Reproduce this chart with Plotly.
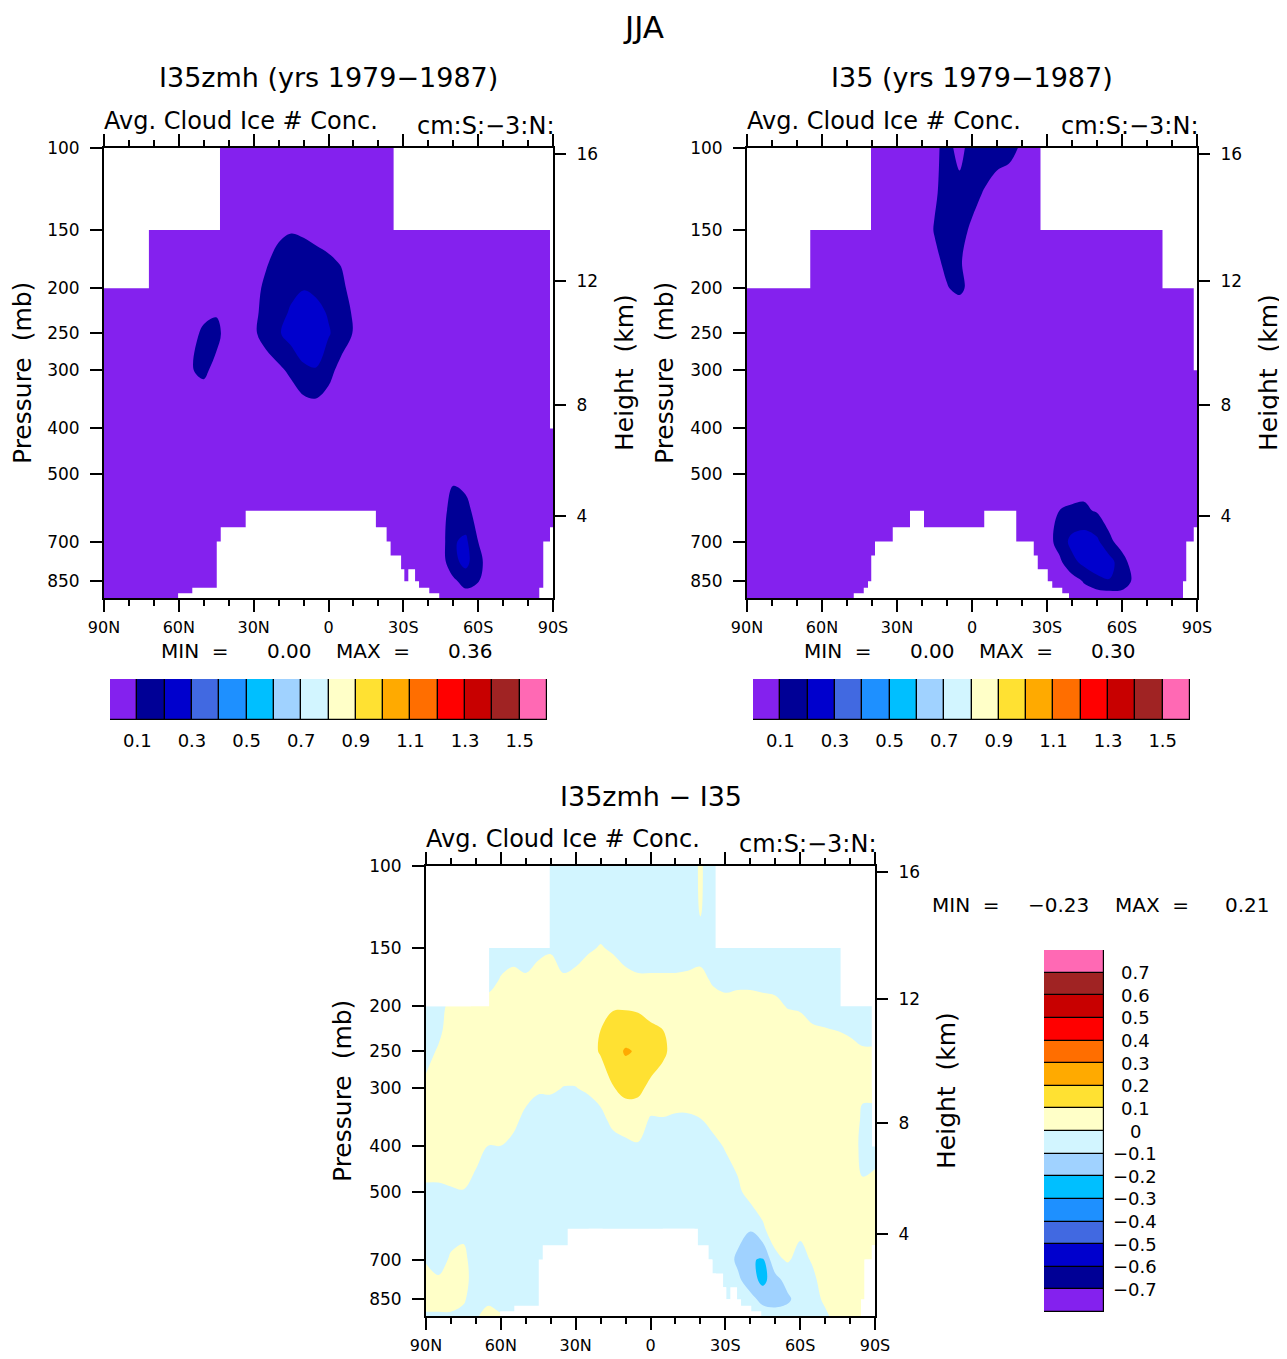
import math
import plotly.graph_objects as go

W, H = 1287, 1359
PAGE_MARGIN = 8          # default body margin of the html page
FONT = "DejaVu Sans"

# ---------------- grid ----------------
LATS = [90, 85, 80, 75, 70, 65, 60, 55, 50, 45, 40, 35, 30, 25, 20, 15, 10, 5, 0,
        -5, -10, -15, -20, -25, -30, -35, -40, -45, -50, -55, -60, -65, -70, -75,
        -80, -85, -90]
LEVELS = [100, 125, 150, 175, 200, 225, 250, 300, 350, 400, 500, 600, 700, 775, 850, 925]
P_BOTTOM = 925

# ---------------- panel 1 : I35zmh (rows = LEVELS, cols = LATS) ----------------
P1_FIELD = [
    [.05,.05,.05,.05,.05,.05,.05,.05,.05,.05, .05,.05,.05,.05,.05,.05,.05,.05,.05,.05, .05,.05,.05,.05,.05,.05,.05,.05,.05,.05, .05,.05,.05,.05,.05,.05,.05],
    [.05,.05,.05,.05,.05,.05,.05,.05,.05,.05, .05,.05,.05,.05,.05,.05,.05,.05,.05,.05, .05,.05,.05,.05,.05,.05,.05,.05,.05,.05, .05,.05,.05,.05,.05,.05,.05],
    [.05,.05,.05,.05,.05,.05,.05,.05,.05,.05, .05,.05,.05,.06,.08,.095,.09,.08,.07,.06, .05,.05,.05,.05,.05,.05,.05,.05,.05,.05, .05,.05,.05,.05,.05,.05,.05],
    [.05,.05,.05,.05,.05,.05,.05,.05,.05,.05, .05,.05,.05,.09,.13,.14,.13,.12,.11,.095, .06,.05,.05,.05,.05,.05,.05,.05,.05,.05, .05,.05,.05,.05,.05,.05,.05],
    [.05,.05,.05,.05,.05,.05,.05,.05,.05,.05, .05,.05,.07,.12,.15,.18,.195,.18,.15,.12, .07,.05,.05,.05,.05,.05,.05,.05,.05,.05, .05,.05,.05,.05,.05,.05,.05],
    [.05,.05,.05,.05,.05,.05,.05,.05,.06,.09, .05,.05,.08,.13,.17,.21,.25,.23,.19,.14, .09,.05,.05,.05,.05,.05,.05,.05,.05,.05, .05,.05,.05,.05,.05,.05,.05],
    [.05,.05,.05,.05,.05,.05,.05,.05,.13,.13, .05,.05,.085,.14,.19,.24,.28,.26,.21,.15, .095,.05,.05,.05,.05,.05,.05,.05,.05,.05, .05,.05,.05,.05,.05,.05,.05],
    [.05,.05,.05,.05,.05,.05,.05,.095,.12,.07, .05,.05,.05,.05,.08,.12,.18,.195,.13,.07, .05,.05,.05,.05,.05,.05,.05,.05,.05,.05, .05,.05,.05,.05,.05,.05,.05],
    [.05,.05,.05,.05,.05,.05,.05,.05,.05,.05, .05,.05,.05,.05,.05,.05,.08,.09,.07,.05, .05,.05,.05,.05,.05,.05,.05,.05,.05,.05, .05,.05,.05,.05,.05,.05,.05],
    [.05,.05,.05,.05,.05,.05,.05,.05,.05,.05, .05,.05,.05,.05,.05,.05,.05,.05,.05,.05, .05,.05,.05,.05,.05,.05,.05,.05,.05,.05, .05,.05,.05,.05,.05,.05,.05],
    [.05,.05,.05,.05,.05,.05,.05,.05,.05,.05, .05,.05,.05,.05,.05,.05,.05,.05,.05,.05, .05,.05,.05,.05,.05,.05,.05,.05,.08,.06, .05,.05,.05,.05,.05,.05,.05],
    [.05,.05,.05,.05,.05,.05,.05,.05,.05,.05, .05,.05,.05,.05,.05,.05,.05,.05,.05,.05, .05,.05,.05,.05,.05,.05,.05,.06,.14,.13, .06,.05,.05,.05,.05,.05,.05],
    [.05,.05,.05,.05,.05,.05,.05,.05,.05,.05, .05,.05,.05,.05,.05,.05,.05,.05,.05,.05, .05,.05,.05,.05,.05,.05,.05,.05,.19,.22, .10,.05,.05,.05,.05,.05,.05],
    [.05,.05,.05,.05,.05,.05,.05,.05,.05,.05, .05,.05,.05,.05,.05,.05,.05,.05,.05,.05, .05,.05,.05,.05,.05,.05,.05,.05,.17,.23, .13,.05,.05,.05,.05,.05,.05],
    [.05,.05,.05,.05,.05,.05,.05,.05,.05,.05, .05,.05,.05,.05,.05,.05,.05,.05,.05,.05, .05,.05,.05,.05,.05,.05,.05,.05,.08,.14, .105,.05,.05,.05,.05,.05,.05],
    [.05,.05,.05,.05,.05,.05,.05,.05,.05,.05, .05,.05,.05,.05,.05,.05,.05,.05,.05,.05, .05,.05,.05,.05,.05,.05,.05,.05,.05,.05, .05,.05,.05,.05,.05,.05,.05],
]

# ---------------- panel 2 : I35 (rows = LEVELS, cols = LATS) ----------------
P2_FIELD = [
    [.05,.05,.05,.05,.05,.05,.05,.05,.05,.05, .05,.05,.05,.05,.05,.08,.13,.07,.14,.14, .13,.12,.09,.05,.05,.05,.05,.05,.05,.05, .05,.05,.05,.05,.05,.05,.05],
    [.05,.05,.05,.05,.05,.05,.05,.05,.05,.05, .05,.05,.05,.05,.05,.09,.13,.13,.12,.095, .07,.06,.05,.05,.05,.05,.05,.05,.05,.05, .05,.05,.05,.05,.05,.05,.05],
    [.05,.05,.05,.05,.05,.05,.05,.05,.05,.05, .05,.05,.05,.05,.05,.105,.13,.12,.09,.05, .05,.05,.05,.05,.05,.05,.05,.05,.05,.05, .05,.05,.05,.05,.05,.05,.05],
    [.05,.05,.05,.05,.05,.05,.05,.05,.05,.05, .05,.05,.05,.05,.05,.08,.12,.11,.06,.05, .05,.05,.05,.05,.05,.05,.05,.05,.05,.05, .05,.05,.05,.05,.05,.05,.05],
    [.05,.05,.05,.05,.05,.05,.05,.05,.05,.05, .05,.05,.05,.05,.05,.05,.095,.12,.07,.05, .05,.05,.05,.05,.05,.05,.05,.05,.05,.05, .05,.05,.05,.05,.05,.05,.05],
    [.05,.05,.05,.05,.05,.05,.05,.05,.05,.05, .05,.05,.05,.05,.05,.05,.05,.05,.05,.05, .05,.05,.05,.05,.05,.05,.05,.05,.05,.05, .05,.05,.05,.05,.05,.05,.05],
    [.05,.05,.05,.05,.05,.05,.05,.05,.05,.05, .05,.05,.05,.05,.05,.05,.05,.05,.05,.05, .05,.05,.05,.05,.05,.05,.05,.05,.05,.05, .05,.05,.05,.05,.05,.05,.05],
    [.05,.05,.05,.05,.05,.05,.05,.05,.05,.05, .05,.05,.05,.05,.05,.05,.05,.05,.05,.05, .05,.05,.05,.05,.05,.05,.05,.05,.05,.05, .05,.05,.05,.05,.05,.05,.05],
    [.05,.05,.05,.05,.05,.05,.05,.05,.05,.05, .05,.05,.05,.05,.05,.05,.05,.05,.05,.05, .05,.05,.05,.05,.05,.05,.05,.05,.05,.05, .05,.05,.05,.05,.05,.05,.05],
    [.05,.05,.05,.05,.05,.05,.05,.05,.05,.05, .05,.05,.05,.05,.05,.05,.05,.05,.05,.05, .05,.05,.05,.05,.05,.05,.05,.05,.05,.05, .05,.05,.05,.05,.05,.05,.05],
    [.05,.05,.05,.05,.05,.05,.05,.05,.05,.05, .05,.05,.05,.05,.05,.05,.05,.05,.05,.05, .05,.05,.05,.05,.05,.05,.05,.05,.05,.05, .05,.05,.05,.05,.05,.05,.05],
    [.05,.05,.05,.05,.05,.05,.05,.05,.05,.05, .05,.05,.05,.05,.05,.05,.05,.05,.05,.05, .05,.05,.05,.05,.05,.10,.11,.115,.09,.05, .05,.05,.05,.05,.05,.05,.05],
    [.05,.05,.05,.05,.05,.05,.05,.05,.05,.05, .05,.05,.05,.05,.05,.05,.05,.05,.05,.05, .05,.05,.05,.05,.06,.14,.23,.25,.22,.12, .06,.05,.05,.05,.05,.05,.05],
    [.05,.05,.05,.05,.05,.05,.05,.05,.05,.05, .05,.05,.05,.05,.05,.05,.05,.05,.05,.05, .05,.05,.05,.05,.05,.08,.17,.23,.26,.24, .14,.05,.05,.05,.05,.05,.05],
    [.05,.05,.05,.05,.05,.05,.05,.05,.05,.05, .05,.05,.05,.05,.05,.05,.05,.05,.05,.05, .05,.05,.05,.05,.05,.05,.06,.11,.17,.195, .18,.07,.05,.05,.05,.05,.05],
    [.05,.05,.05,.05,.05,.05,.05,.05,.05,.05, .05,.05,.05,.05,.05,.05,.05,.05,.05,.05, .05,.05,.05,.05,.05,.05,.05,.05,.03,.03, .03,.05,.05,.05,.05,.05,.05],
]

# ---------------- panel 3 : I35zmh - I35 (one profile per latitude, top -> bottom) ----------------
P3_PROFILES = [
    [-.04,-.04,-.04,-.04,-.04,-.04,-.03,.02,.04,.04,-.01,-.04,-.01,.04,.03,-.01],     # 90
    [-.04,-.04,-.04,-.04,-.04,-.02,.01,.04,.04,.04,-.01,-.04,-.03,.01,.03,-.01],      # 85
    [-.04,-.04,-.04,-.04,.03,.04,.04,.04,.04,.04,-.005,-.03,.01,.04,.03,-.01],        # 80
    [-.04,-.04,-.04,-.04,.04,.04,.04,.04,.04,.04,-.002,-.02,.02,.03,.01,-.02],        # 75
    [-.04,-.04,-.04,-.04,.04,.04,.04,.04,.04,.04,-.04,-.04,-.04,-.04,-.04,-.01],      # 70
    [-.04,-.04,-.04,-.03,.03,.04,.04,.04,.04,-.002,-.04,-.04,-.04,-.04,-.02,.03],     # 65
    [-.04,-.04,-.04,.005,.04,.04,.04,.04,.04,-.001,-.04,-.04,-.04,-.04,-.04,.01],     # 60
    [-.04,-.04,-.03,.02,.04,.04,.04,.04,.02,-.02,-.04,-.04,-.04,-.04,-.04,.01],       # 55
    [-.04,-.04,-.04,.01,.04,.04,.04,.03,-.02,-.04,-.04,-.04,-.04,-.04,-.04,-.02],     # 50
    [-.04,-.04,-.02,.03,.04,.04,.04,.01,-.04,-.04,-.04,-.04,-.04,-.04,-.04,-.04],     # 45
    [-.04,-.04,-.01,.04,.04,.04,.04,.01,-.04,-.04,-.04,-.04,-.04,-.04,-.04,-.04],     # 40
    [-.04,-.04,-.04,.01,.04,.04,.04,-.002,-.04,-.04,-.04,-.04,-.04,-.04,-.04,-.04],   # 35
    [-.04,-.04,-.03,.02,.04,.04,.04,-.002,-.04,-.04,-.04,-.04,-.04,-.04,-.04,-.04],   # 30
    [-.04,-.04,-.01,.04,.04,.05,.06,.01,-.04,-.04,-.04,-.04,-.04,-.04,-.04,-.04],     # 25
    [-.04,-.04,.005,.04,.06,.10,.11,.03,-.02,-.04,-.04,-.04,-.04,-.04,-.04,-.04],     # 20
    [-.04,-.04,-.01,.04,.09,.14,.16,.095,.02,-.03,-.04,-.04,-.04,-.04,-.04,-.04],     # 15
    [-.04,-.04,-.03,.02,.09,.15,.21,.13,.04,-.02,-.04,-.04,-.04,-.04,-.04,-.04],      # 10
    [-.04,-.04,-.04,.01,.085,.14,.19,.12,.05,-.01,-.04,-.04,-.04,-.04,-.04,-.04],     # 5
    [-.04,-.04,-.04,.01,.06,.12,.15,.08,-.01,-.04,-.04,-.04,-.04,-.04,-.04,-.04],     # 0
    [-.04,-.04,-.04,.01,.05,.10,.115,.06,-.005,-.04,-.04,-.04,-.04,-.04,-.04,-.04],   # -5
    [-.04,-.04,-.04,.01,.04,.06,.07,.04,-.01,-.04,-.04,-.04,-.04,-.04,-.04,-.04],     # -10
    [-.04,-.04,-.04,.015,.04,.04,.04,.04,-.01,-.04,-.04,-.04,-.04,-.04,-.04,-.04],    # -15
    [.01,.005,-.03,.02,.04,.04,.04,.04,-.002,-.04,-.04,-.04,-.04,-.04,-.04,-.04],     # -20
    [-.04,-.04,-.04,-.01,.03,.04,.04,.04,.02,-.02,-.04,-.04,-.04,-.04,-.04,-.04],     # -25
    [-.04,-.04,-.04,-.03,.03,.04,.04,.04,.04,.005,-.04,-.04,-.05,-.04,-.04,-.04],     # -30
    [-.04,-.04,-.04,-.02,.03,.04,.04,.04,.04,.04,-.02,-.06,-.12,-.08,-.04,-.04],      # -35
    [-.04,-.04,-.04,-.02,.03,.04,.04,.04,.04,.04,.04,-.09,-.19,-.15,-.07,-.04],       # -40
    [-.04,-.04,-.04,-.02,.02,.04,.04,.04,.04,.04,.04,-.01,-.21,-.23,-.13,-.05],       # -45
    [-.04,-.04,-.04,-.03,.02,.04,.04,.04,.04,.04,.04,.04,-.02,-.14,-.15,-.05],        # -50
    [-.04,-.04,-.04,-.04,-.005,.04,.04,.04,.04,.04,.04,.04,.01,-.06,-.12,-.05],       # -55
    [-.04,-.04,-.04,-.04,-.01,.03,.04,.04,.04,.04,.04,.02,-.03,-.04,-.05,-.04],       # -60
    [-.04,-.04,-.04,-.04,-.03,.01,.04,.04,.04,.04,.04,.04,.01,-.02,-.04,-.04],        # -65
    [-.04,-.04,-.04,-.04,-.04,.005,.04,.04,.04,.04,.04,.04,.04,.04,.02,-.02],         # -70
    [-.04,-.04,-.04,-.04,-.04,-.002,.04,.04,.04,.04,.04,.04,.04,.04,.04,.04],         # -75
    [-.04,-.04,-.04,-.04,-.04,-.01,.02,.04,.04,.04,.04,.04,.04,.04,.04,.04],          # -80
    [-.04,-.04,-.04,-.04,-.04,-.03,.01,.01,-.01,-.02,.01,.04,.04,.04,.04,.04],        # -85
    [-.04,-.04,-.04,-.04,-.04,-.03,.01,.01,-.01,-.01,.01,.04,.04,.04,.04,.04],        # -90
]

# ---------------- missing-data regions (lat band edges, pressure limit per band) ----------------
P1_SURF_BLOCKS = [
    ([60.3, 54.6, 44.8, 43.2, 33.2, -19.0, -23.3, -24.9, -29.1, -30.4, -32.0, -34.7, -36.3, -40.4, -44.4],
     [903, 879, 700, 652, 601, 652, 700, 750, 802, 851, 802, 851, 879, 903]),
    ([-84.5, -86.1, -88.8, -90.0], [879, 700, 652]),
]
P1_TOP_BLOCKS = [
    ([90.0, 72.0, 43.5], [200, 150]),
    ([-26.1, -88.8, -90.0], [150, 400]),
]
P2_SURF_BLOCKS = [
    ([47.3, 43.3, 41.6, 40.3, 38.8, 31.7, 24.8, 19.2, -4.9, -17.7, -24.7, -26.3, -30.3, -32.1, -36.1, -38.8],
     [903, 879, 851, 750, 700, 652, 601, 652, 601, 700, 750, 802, 851, 879, 903]),
    ([-84.4, -85.7, -88.7, -90.0], [851, 700, 652]),
]
P2_TOP_BLOCKS = [
    ([90.0, 64.7, 40.4], [200, 150]),
    ([-27.4, -76.2, -88.7, -90.0], [150, 200, 300]),
]

# ---------------- colours / levels / ticks ----------------
COLORS = ["#8421EE", "#000096", "#0000CD", "#4169E1", "#1E90FF", "#00BFFF", "#A0D2FF", "#D2F5FF",
          "#FFFFC8", "#FFE132", "#FFAA00", "#FF6E00", "#FF0000", "#C80000", "#A02323", "#FF69B4"]
LEVELS_ABS = [0.1, 0.2, 0.3, 0.4, 0.5, 0.6, 0.7, 0.8, 0.9, 1.0, 1.1, 1.2, 1.3, 1.4, 1.5]
LEVELS_DIFF = [-0.7, -0.6, -0.5, -0.4, -0.3, -0.2, -0.1, 0.0, 0.1, 0.2, 0.3, 0.4, 0.5, 0.6, 0.7]

XTICK_VALS = [90, 60, 30, 0, -30, -60, -90]
XTICK_TEXT = ["90N", "60N", "30N", "0", "30S", "60S", "90S"]
PTICK_VALS = [100, 150, 200, 250, 300, 400, 500, 700, 850]
HEIGHT_KM = [16, 12, 8, 4]

TITLES = ["I35zmh (yrs 1979\u22121987)", "I35 (yrs 1979\u22121987)", "I35zmh \u2212 I35"]
STATS = [("0.00", "0.36"), ("0.00", "0.30"), ("\u22120.23", "0.21")]


def isa_pressure(z_km):
    z = z_km * 1000.0
    if z <= 11000:
        return 1013.25 * (1 - 0.0065 * z / 288.15) ** 5.2559
    return 226.32 * math.exp(-(z - 11000) / 6341.6)


def fx(x):
    return (x - PAGE_MARGIN) / W


def fy(y):
    return 1 - (y - PAGE_MARGIN) / H


def fmt(v):
    s = ("%.1f" % v) if abs(v) > 1e-9 else "0"
    return s.replace("-", "\u2212")


def step_polygon(blocks, base):
    xs, ys = [], []
    for edges, pres in blocks:
        xs.append(edges[0]); ys.append(base)
        for i, p in enumerate(pres):
            xs += [edges[i], edges[i + 1]]
            ys += [p, p]
        xs.append(edges[-1]); ys.append(base)
        xs.append(None); ys.append(None)
    return xs, ys


def transpose(cols):
    return [[cols[i][j] for i in range(len(cols))] for j in range(len(cols[0]))]


COLORSCALE = [[k / 15, c] for k, c in enumerate(COLORS)]

fig = go.Figure()
layout = dict(template="none", width=W, height=H, margin=dict(l=0, r=0, t=0, b=0, pad=0),
              autosize=False, paper_bgcolor="white", plot_bgcolor="white", showlegend=False,
              font=dict(family=FONT, color="black"), bargap=0)

PANELS = [
    dict(z=P1_FIELD, lv=LEVELS_ABS, xb=(104, 553), yb=(148, 598),
         surf=[P1_SURF_BLOCKS], top=[P1_TOP_BLOCKS], pl=22),
    dict(z=P2_FIELD, lv=LEVELS_ABS, xb=(747, 1197), yb=(148, 598),
         surf=[P2_SURF_BLOCKS], top=[P2_TOP_BLOCKS], pl=664),
    dict(z=transpose(P3_PROFILES), lv=LEVELS_DIFF, xb=(426, 875), yb=(866, 1316),
         surf=[P1_SURF_BLOCKS, P2_SURF_BLOCKS], top=[P1_TOP_BLOCKS, P2_TOP_BLOCKS], pl=342),
]

height_p = [isa_pressure(z) for z in HEIGHT_KM]
yrange = [math.log10(P_BOTTOM), math.log10(LEVELS[0])]
tickfont = dict(family=FONT, size=16, color="black")
annotations = []

for k, pn in enumerate(PANELS, start=1):
    lv = pn["lv"]
    step = round(lv[1] - lv[0], 6)
    fig.add_trace(go.Contour(
        x=LATS, y=LEVELS, z=pn["z"], xaxis=f"x{k}", yaxis=f"y{k}",
        autocontour=False,
        contours=dict(start=lv[0], end=lv[-1], size=step, coloring="fill", showlines=False),
        colorscale=COLORSCALE, line=dict(width=0), showscale=False, hoverinfo="skip"))
    for blocks in pn["surf"]:
        xs, ys = step_polygon(blocks, 1100)
        fig.add_trace(go.Scatter(x=xs, y=ys, xaxis=f"x{k}", yaxis=f"y{k}", mode="lines",
                                 fill="toself", fillcolor="white", line=dict(width=0, color="white"),
                                 hoverinfo="skip"))
    for blocks in pn["top"]:
        xs, ys = step_polygon(blocks, 80)
        fig.add_trace(go.Scatter(x=xs, y=ys, xaxis=f"x{k}", yaxis=f"y{k}", mode="lines",
                                 fill="toself", fillcolor="white", line=dict(width=0, color="white"),
                                 hoverinfo="skip"))
    # helper for right-hand height axis
    fig.add_trace(go.Scatter(x=[0], y=[500], xaxis=f"x{k}", yaxis=f"y{k + 6}", mode="markers",
                             marker=dict(opacity=0), hoverinfo="skip"))

    x0, x1 = pn["xb"]
    y0, y1 = pn["yb"]
    layout[f"xaxis{k}"] = dict(
        domain=[fx(x0), fx(x1)], anchor=f"y{k}", range=[90, -90], automargin=False,
        tickmode="array", tickvals=XTICK_VALS, ticktext=XTICK_TEXT,
        ticks="outside", ticklen=12, tickwidth=2, tickcolor="black",
        minor=dict(tickmode="linear", tick0=0, dtick=10, ticks="outside", ticklen=6,
                   tickwidth=2, tickcolor="black", showgrid=False),
        showline=True, linewidth=2, linecolor="black", mirror="ticks",
        showgrid=False, zeroline=False, tickfont=tickfont, ticklabelstandoff=2)
    layout[f"yaxis{k}"] = dict(
        domain=[fy(y1), fy(y0)], anchor=f"x{k}", type="log", range=yrange, automargin=False,
        tickmode="array", tickvals=PTICK_VALS, ticktext=[str(v) for v in PTICK_VALS],
        ticks="outside", ticklen=12, tickwidth=2, tickcolor="black",
        showline=True, linewidth=2, linecolor="black", mirror=True,
        showgrid=False, zeroline=False, tickfont=dict(family=FONT, size=17, color="black"),
        ticklabelstandoff=7)
    layout[f"yaxis{k + 6}"] = dict(
        overlaying=f"y{k}", anchor=f"x{k}", side="right", type="log", range=yrange,
        automargin=False,
        tickmode="array", tickvals=height_p, ticktext=[str(z) for z in HEIGHT_KM],
        ticks="outside", ticklen=12, tickwidth=2, tickcolor="black",
        showline=False, showgrid=False, zeroline=False,
        tickfont=dict(family=FONT, size=17, color="black"), ticklabelstandoff=7)

    cx = (x0 + x1) / 2
    cy = (y0 + y1) / 2
    ty = y0 - 70
    annotations.append(dict(text=TITLES[k - 1], x=fx(cx), y=fy(ty), xref="paper", yref="paper",
                            xanchor="center", yanchor="middle", showarrow=False,
                            font=dict(family=FONT, size=27)))
    annotations.append(dict(text="Avg. Cloud Ice # Conc.", x=fx(x0 - 2), y=fy(y0 - 27),
                            xref="paper", yref="paper", xanchor="left", yanchor="middle",
                            showarrow=False, font=dict(family=FONT, size=24)))
    annotations.append(dict(text="cm:S:\u22123:N:", x=fx(x1 + 3), y=fy(y0 - 22),
                            xref="paper", yref="paper", xanchor="right", yanchor="middle",
                            showarrow=False, font=dict(family=FONT, size=24)))
    annotations.append(dict(text="Pressure  (mb)", x=fx(pn["pl"]), y=fy(cy), xref="paper",
                            yref="paper", xanchor="center", yanchor="middle", textangle=-90,
                            showarrow=False, font=dict(family=FONT, size=25)))
    annotations.append(dict(text="Height  (km)", x=fx(x1 + 71), y=fy(cy), xref="paper",
                            yref="paper", xanchor="center", yanchor="middle", textangle=-90,
                            showarrow=False, font=dict(family=FONT, size=25)))

# MIN / MAX text
stat_pos = [((194.7, 289, 373, 470), 651), ((837.7, 932, 1016, 1113), 651),
            ((966, 1058, 1151.5, 1247), 905)]
for (mn, mx), (xs_, yy) in zip(STATS, stat_pos):
    for txt, xx in zip(["MIN  =", mn, "MAX  =", mx], xs_):
        annotations.append(dict(text=txt, x=fx(xx), y=fy(yy), xref="paper", yref="paper",
                                xanchor="center", yanchor="middle", showarrow=False,
                                font=dict(family=FONT, size=20)))

annotations.append(dict(text="JJA", x=fx(643), y=1.0, xref="paper", yref="paper",
                        xanchor="center", yanchor="top", showarrow=False, borderpad=0,
                        font=dict(family=FONT, size=31)))

# ---------------- colour bars ----------------
band_pos = [i + 0.5 for i in range(len(COLORS))]
for k, (x0, x1) in zip((4, 5), ((110, 547), (753, 1190))):
    fig.add_trace(go.Bar(x=band_pos, y=[1] * len(COLORS), width=[1] * len(COLORS),
                         marker=dict(color=COLORS, line=dict(color="black", width=1.2)),
                         xaxis=f"x{k}", yaxis=f"y{k}", hoverinfo="skip"))
    layout[f"xaxis{k}"] = dict(domain=[fx(x0), fx(x1)], anchor=f"y{k}", range=[0, len(COLORS)],
                               automargin=False,
                               tickmode="array", tickvals=list(range(1, len(LEVELS_ABS) + 1, 2)),
                               ticktext=[fmt(v) for v in LEVELS_ABS[::2]], ticks="",
                               showline=False, showgrid=False, zeroline=False,
                               tickfont=dict(family=FONT, size=18, color="black"),
                               ticklabelstandoff=8)
    layout[f"yaxis{k}"] = dict(domain=[fy(720), fy(679)], anchor=f"x{k}", range=[0, 1],
                               visible=False, automargin=False)

fig.add_trace(go.Bar(y=band_pos, x=[1] * len(COLORS), width=[1] * len(COLORS), orientation="h",
                     marker=dict(color=COLORS, line=dict(color="black", width=1.2)),
                     xaxis="x6", yaxis="y6", hoverinfo="skip"))
layout["xaxis6"] = dict(domain=[fx(1044), fx(1104)], anchor="y6", range=[0, 1], visible=False,
                        automargin=False)
layout["yaxis6"] = dict(domain=[fy(1312), fy(950)], anchor="x6", range=[0, len(COLORS)],
                        visible=False, automargin=False)
for i, v in enumerate(LEVELS_DIFF, start=1):
    annotations.append(dict(text=fmt(v), x=fx(1135), y=i, xref="paper", yref="y6",
                            xanchor="center", yanchor="middle", showarrow=False,
                            font=dict(family=FONT, size=18)))

layout["annotations"] = annotations
fig.update_layout(**layout)
fig.write_html("out.html")
